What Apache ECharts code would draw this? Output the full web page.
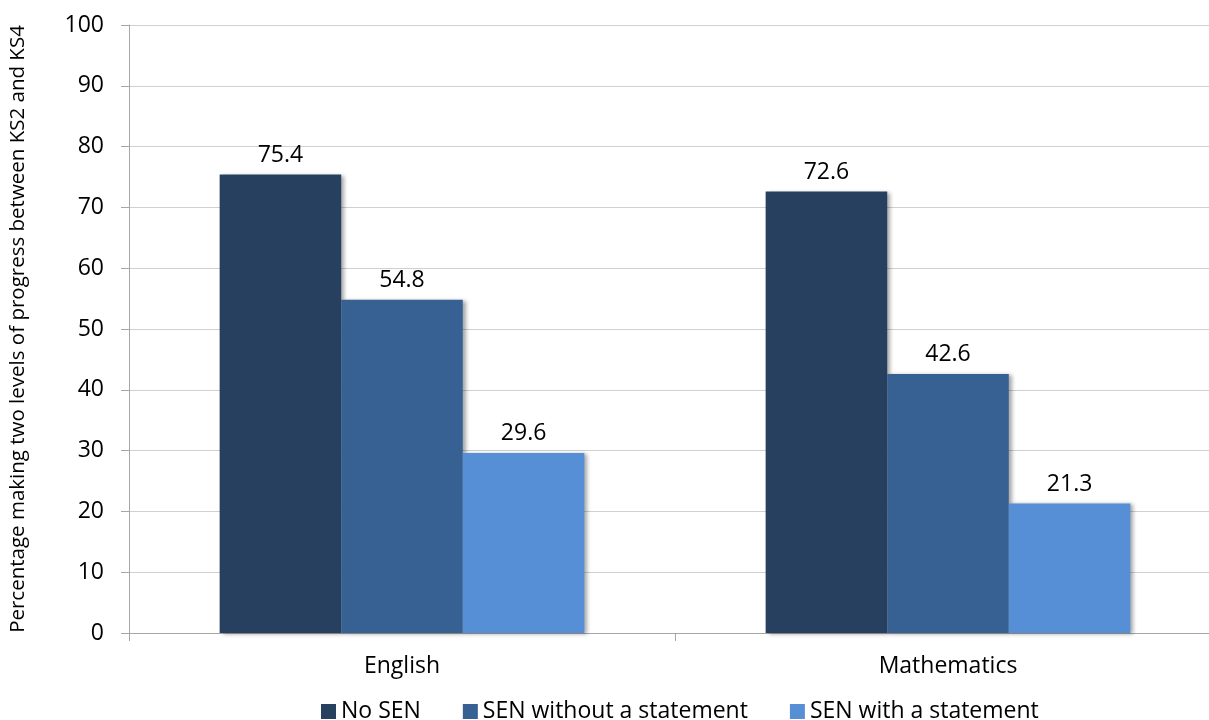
<!DOCTYPE html>
<html>
<head>
<meta charset="utf-8">
<script src="https://cdn.jsdelivr.net/npm/echarts@6/dist/echarts.min.js"></script>
<style>
html,body{margin:0;padding:0;background:#fff;overflow:hidden;width:1209px;height:720px;}
#c{width:1225px;height:720px;}
</style>
</head>
<body>
<div id="c"></div>
<script>
var categories = ['English', 'Mathematics'];
var seriesNames = ['No SEN', 'SEN without a statement', 'SEN with a statement'];
var noSen = [75.4, 72.6];
var senWithout = [54.8, 42.6];
var senWith = [29.6, 21.3];
var yTicks = [0, 100, 10];
var colors = ['#27405f', '#376193', '#568fd6'];
var FONT = '"Open Sans", "Noto Sans", sans-serif';

var chart = echarts.init(document.getElementById('c'), null, {renderer: 'canvas'});
function mk(name, data, color) {
  return {
    name: name, type: 'bar', data: data,
    barGap: '0%', barCategoryGap: '33.2%',
    itemStyle: {color: color, shadowColor: 'rgba(0,0,0,0.35)', shadowBlur: 4, shadowOffsetX: 3, shadowOffsetY: 1},
    label: {show: true, position: 'top', distance: 8, color: '#000', fontFamily: FONT, fontSize: 23,
      formatter: function (p) { return p.value.toFixed(1); }}
  };
}
chart.setOption({
  animation: false,
  color: colors,
  grid: {left: 125, top: 25, width: 1096, bottom: 87, containLabel: false},
  legend: {
    top: 695, left: 316, itemWidth: 15, itemHeight: 15, itemGap: 42,
    icon: 'rect',
    textStyle: {fontFamily: FONT, fontSize: 23, color: '#000'},
    data: seriesNames
  },
  xAxis: {
    type: 'category', data: categories,
    axisLine: {lineStyle: {color: '#a6a6a6', width: 1}},
    axisTick: {show: true, length: 8, lineStyle: {color: '#a6a6a6'}},
    axisLabel: {fontFamily: FONT, fontSize: 23, color: '#000', margin: 22}
  },
  yAxis: {
    type: 'value', min: yTicks[0], max: yTicks[1], interval: yTicks[2],
    name: 'Percentage making two levels of progress between KS2 and KS4',
    nameLocation: 'middle', nameGap: 100, nameRotate: 90,
    nameTextStyle: {fontFamily: FONT, fontSize: 20.5, color: '#000'},
    axisLine: {show: true, lineStyle: {color: '#a6a6a6'}},
    axisTick: {show: true, length: 8, lineStyle: {color: '#a6a6a6'}},
    axisLabel: {fontFamily: FONT, fontSize: 23, color: '#000', margin: 25},
    splitLine: {show: true, lineStyle: {color: '#d0d0d0', width: 1}}
  },
  series: [
    mk(seriesNames[0], noSen, colors[0]),
    mk(seriesNames[1], senWithout, colors[1]),
    mk(seriesNames[2], senWith, colors[2])
  ]
});
</script>
</body>
</html>
